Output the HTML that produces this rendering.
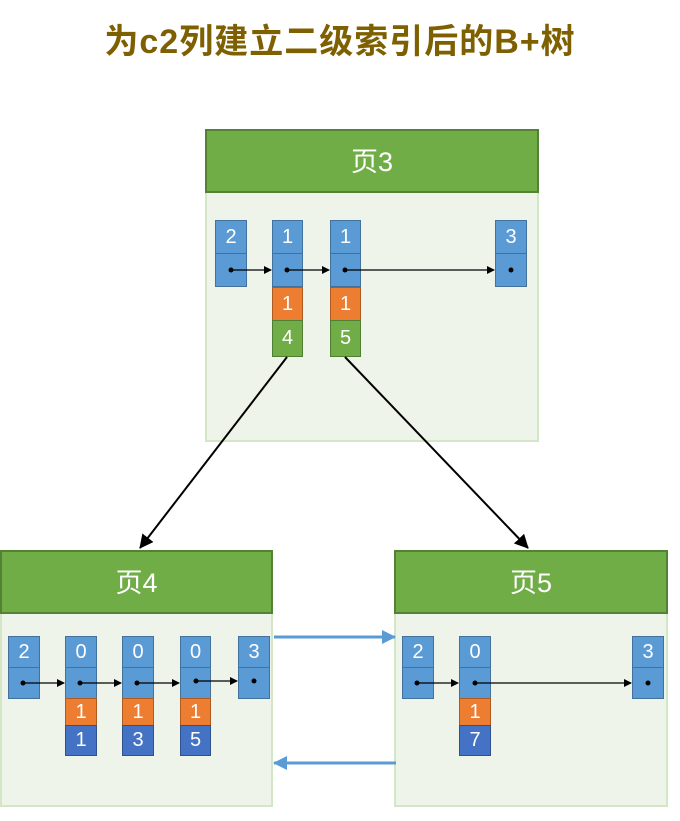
<!DOCTYPE html>
<html><head><meta charset="utf-8"><style>
body{margin:0;width:680px;height:821px;background:#fff;position:relative;overflow:hidden;font-family:"Liberation Sans","Noto Sans CJK SC",sans-serif}
.t{position:absolute;left:0;top:14px;width:680px;text-align:center;font-size:34px;font-weight:bold;color:#7f6000;letter-spacing:1px}
.pg{position:absolute;background:#eef4ea;border:2px solid #d3e6c6;box-sizing:border-box}
.hd{position:absolute;left:-2px;right:-2px;top:-2px;background:#70ad47;border:2px solid #548235;box-sizing:border-box;color:#fff;font-size:27px;text-align:center}
.c{position:absolute;box-sizing:border-box;border:1.5px solid #41719c;color:#fff;font-size:20px;text-align:center}
.b{background:#5b9bd5}.o{background:#ed7d31;border-color:#ae5a21}.g{background:#70ad47;border-color:#507e32}.d{background:#4472c4;border-color:#2f528f}
</style></head><body>
<div class="t">为c2列建立二级索引后的B+树</div>
<div class="pg" style="left:205px;top:129px;width:334px;height:313px"><div class="hd" style="height:64px;line-height:62px">页3</div></div>
<div class="pg" style="left:0;top:550px;width:273px;height:257px"><div class="hd" style="height:64px;line-height:62px">页4</div></div>
<div class="pg" style="left:394px;top:550px;width:274px;height:257px"><div class="hd" style="height:64px;line-height:62px">页5</div></div>
<!-- page3 cells -->
<div class="c b" style="left:215px;top:220px;width:32px;height:34px;line-height:32px">2</div><div class="c b" style="left:215px;top:253px;width:32px;height:34px"></div>
<div class="c b" style="left:272px;top:220px;width:31px;height:34px;line-height:32px">1</div><div class="c b" style="left:272px;top:253px;width:31px;height:34px"></div>
<div class="c o" style="left:272px;top:287px;width:31px;height:34px;line-height:32px">1</div><div class="c g" style="left:272px;top:320px;width:31px;height:37px;line-height:35px">4</div>
<div class="c b" style="left:330px;top:220px;width:31px;height:34px;line-height:32px">1</div><div class="c b" style="left:330px;top:253px;width:31px;height:34px"></div>
<div class="c o" style="left:330px;top:287px;width:31px;height:34px;line-height:32px">1</div><div class="c g" style="left:330px;top:320px;width:31px;height:37px;line-height:35px">5</div>
<div class="c b" style="left:495px;top:220px;width:32px;height:34px;line-height:32px">3</div><div class="c b" style="left:495px;top:253px;width:32px;height:34px"></div>
<!-- page4 cells -->
<div class="c b" style="left:8px;top:636px;width:32px;height:32px;line-height:30px">2</div><div class="c b" style="left:8px;top:667px;width:32px;height:32px"></div>
<div class="c b" style="left:65px;top:636px;width:32px;height:32px;line-height:30px">0</div><div class="c b" style="left:65px;top:667px;width:32px;height:32px"></div>
<div class="c o" style="left:65px;top:698px;width:32px;height:28px;line-height:26px">1</div><div class="c d" style="left:65px;top:725px;width:32px;height:31px;line-height:29px">1</div>
<div class="c b" style="left:122px;top:636px;width:32px;height:32px;line-height:30px">0</div><div class="c b" style="left:122px;top:667px;width:32px;height:32px"></div>
<div class="c o" style="left:122px;top:698px;width:32px;height:28px;line-height:26px">1</div><div class="c d" style="left:122px;top:725px;width:32px;height:31px;line-height:29px">3</div>
<div class="c b" style="left:180px;top:636px;width:31px;height:32px;line-height:30px">0</div><div class="c b" style="left:180px;top:667px;width:31px;height:32px"></div>
<div class="c o" style="left:180px;top:698px;width:31px;height:28px;line-height:26px">1</div><div class="c d" style="left:180px;top:725px;width:31px;height:31px;line-height:29px">5</div>
<div class="c b" style="left:238px;top:636px;width:32px;height:32px;line-height:30px">3</div><div class="c b" style="left:238px;top:667px;width:32px;height:32px"></div>
<!-- page5 cells -->
<div class="c b" style="left:402px;top:636px;width:32px;height:32px;line-height:30px">2</div><div class="c b" style="left:402px;top:667px;width:32px;height:32px"></div>
<div class="c b" style="left:459px;top:636px;width:32px;height:32px;line-height:30px">0</div><div class="c b" style="left:459px;top:667px;width:32px;height:32px"></div>
<div class="c o" style="left:459px;top:698px;width:32px;height:28px;line-height:26px">1</div><div class="c d" style="left:459px;top:725px;width:32px;height:31px;line-height:29px">7</div>
<div class="c b" style="left:632px;top:636px;width:32px;height:32px;line-height:30px">3</div><div class="c b" style="left:632px;top:667px;width:32px;height:32px"></div>
<svg width="680" height="821" style="position:absolute;left:0;top:0">
<defs>
<marker id="k" markerWidth="8" markerHeight="8" refX="7" refY="4" orient="auto" markerUnits="userSpaceOnUse"><path d="M0,0L8,4L0,8z" fill="#000"/></marker>
<marker id="K" markerWidth="14" markerHeight="14" refX="13" refY="7" orient="auto" markerUnits="userSpaceOnUse"><path d="M0,0L14,7L0,14z" fill="#000"/></marker>
<marker id="bl" markerWidth="14" markerHeight="14" refX="13" refY="7" orient="auto" markerUnits="userSpaceOnUse"><path d="M0,0L14,7L0,14z" fill="#5b9bd5"/></marker>
</defs>
<g fill="#000">
<circle cx="231" cy="270" r="2.5"/><circle cx="287" cy="270" r="2.5"/><circle cx="345" cy="270" r="2.5"/><circle cx="511" cy="270" r="2.5"/>
<circle cx="23" cy="683" r="2.5"/><circle cx="80" cy="683" r="2.5"/><circle cx="137" cy="683" r="2.5"/><circle cx="196" cy="681" r="2.5"/><circle cx="254" cy="681" r="2.5"/>
<circle cx="417" cy="683" r="2.5"/><circle cx="475" cy="683" r="2.5"/><circle cx="648" cy="683" r="2.5"/>
</g>
<g stroke="#000" stroke-width="1.3" fill="none">
<line x1="231" y1="270" x2="271" y2="270" marker-end="url(#k)"/>
<line x1="287" y1="270" x2="329" y2="270" marker-end="url(#k)"/>
<line x1="345" y1="270" x2="494" y2="270" marker-end="url(#k)"/>
<line x1="23" y1="683" x2="64" y2="683" marker-end="url(#k)"/>
<line x1="80" y1="683" x2="121" y2="683" marker-end="url(#k)"/>
<line x1="137" y1="683" x2="179" y2="683" marker-end="url(#k)"/>
<line x1="196" y1="681" x2="237" y2="681" marker-end="url(#k)"/>
<line x1="417" y1="683" x2="458" y2="683" marker-end="url(#k)"/>
<line x1="475" y1="683" x2="631" y2="683" marker-end="url(#k)"/>
<line x1="287" y1="357" x2="140" y2="548" stroke-width="2" marker-end="url(#K)"/>
<line x1="345" y1="357" x2="528" y2="548" stroke-width="2" marker-end="url(#K)"/>
</g>
<g stroke="#5b9bd5" stroke-width="3" fill="none">
<line x1="274" y1="637" x2="395" y2="637" marker-end="url(#bl)"/>
<line x1="396" y1="763" x2="274" y2="763" marker-end="url(#bl)"/>
</g>
</svg>
</body></html>
